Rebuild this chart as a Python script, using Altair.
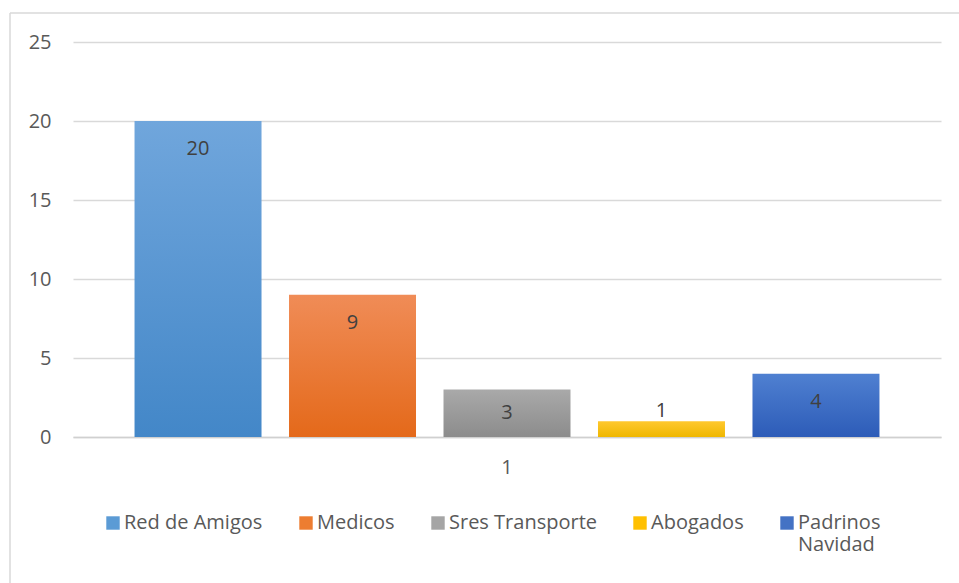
import altair as alt
import pandas as pd

categories = ["1"]
series = ["Red de Amigos", "Medicos", "Sres Transporte", "Abogados", "Padrinos Navidad"]
values = [20, 9, 3, 1, 4]
tops = ["#70a6dc", "#f08c57", "#a9a9a9", "#ffc82e", "#4f80d1"]
bottoms = ["#4387c8", "#e4691a", "#8c8c8c", "#efb700", "#2d5cb8"]
mids = ["#5b9bd5", "#ed7d31", "#a5a5a5", "#ffc000", "#4472c4"]
y_ticks = [0, 5, 10, 15, 20, 25]

df = pd.DataFrame({"cat": categories * len(series), "series": series, "value": values})

FONT = "Open Sans"
FS = 20
W, H = 868, 395

x_enc = alt.X("cat:N", title=None,
              scale=alt.Scale(paddingOuter=0.0826, paddingInner=0),
              axis=alt.Axis(labelAngle=0, labelFontSize=FS, labelColor="#595959",
                            labelFont=FONT, labelPadding=20, ticks=False,
                            domainColor="#d0d0d0", domainWidth=1.5, grid=False))
xo_enc = alt.XOffset("series:N", sort=series,
                     scale=alt.Scale(domain=series, paddingInner=0.178, paddingOuter=0))
y_scale = alt.Scale(domain=[0, 25], nice=False)
y_enc = alt.Y("value:Q", title=None, scale=y_scale,
              axis=alt.Axis(values=y_ticks, domain=False, ticks=False,
                            labelFontSize=FS, labelColor="#595959", labelFont=FONT,
                            labelPadding=22, gridColor="#d9d9d9", gridWidth=1.3))

base = alt.Chart(df)
layers = []
for i, s in enumerate(series):
    grad = alt.Gradient(gradient="linear", x1=0, x2=0, y1=0, y2=1,
                        stops=[alt.GradientStop(color=tops[i], offset=0),
                               alt.GradientStop(color=bottoms[i], offset=1)])
    layers.append(
        base.transform_filter(alt.datum.series == s)
        .mark_bar(fill=grad)
        .encode(x=x_enc, xOffset=xo_enc, y=y_enc)
    )

# invisible layer only to create the legend
legend_layer = base.mark_square(opacity=0).encode(
    x=x_enc, xOffset=xo_enc, y=y_enc,
    color=alt.Color("series:N", sort=series,
                    scale=alt.Scale(domain=series, range=mids),
                    legend=alt.Legend(
                        title=None, orient="none", legendX=30, legendY=471,
                        direction="horizontal", columns=5,
                        symbolType="square", symbolSize=180, symbolOpacity=1,
                        symbolStrokeWidth=0,
                        labelFontSize=FS, labelColor="#595959", labelFont=FONT,
                        labelOffset=1, columnPadding=33, labelLimit=220,
                        labelBaseline="middle",
                        labelExpr="datum.label == 'Padrinos Navidad' ? ['Padrinos', 'Navidad'] : [datum.label, '']",
                    )),
)

text_big = base.transform_filter(alt.datum.value >= 2).transform_calculate(
    pos="max(datum.value / 2, datum.value - 1.77)"
).mark_text(fontSize=FS, color="#404040", font=FONT, baseline="middle").encode(
    x=x_enc, xOffset=xo_enc, y=alt.Y("pos:Q", scale=y_scale), text="value:Q")

text_small = base.transform_filter(alt.datum.value < 2).mark_text(
    fontSize=FS, color="#404040", font=FONT, baseline="middle", dy=-10
).encode(x=x_enc, xOffset=xo_enc, y=alt.Y("value:Q", scale=y_scale), text="value:Q")

border_left = alt.Chart(pd.DataFrame({"k": [0]})).mark_rule(color="#d9d9d9", strokeWidth=1.5).encode(
    x=alt.value(-63), y=alt.value(-29), y2=alt.value(560))
border_top = alt.Chart(pd.DataFrame({"k": [0]})).mark_rule(color="#d9d9d9", strokeWidth=1.5).encode(
    x=alt.value(-63), x2=alt.value(900), y=alt.value(-29))

chart = alt.layer(*layers, legend_layer, text_big, text_small, border_left, border_top).properties(
    width=W, height=H,
    autosize=alt.AutoSizeParams(type="none"),
    padding={"left": 73, "top": 42, "right": 18, "bottom": 146},
    background="white",
).configure_view(stroke=None)

chart.save("out.html", embed_options={"renderer": "svg", "actions": False})
